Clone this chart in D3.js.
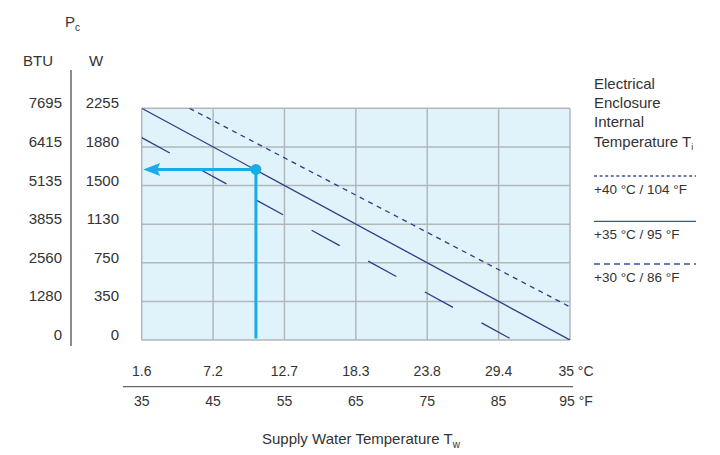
<!DOCTYPE html>
<html>
<head>
<meta charset="utf-8">
<script src="https://cdn.jsdelivr.net/npm/d3@7"></script>
<style>
  html, body { margin: 0; padding: 0; background: #fff; }
  svg { display: block; font-family: "Liberation Sans", Arial, Helvetica, sans-serif; }
</style>
</head>
<body>
<svg id="chart" width="720" height="455"></svg>
<script>
// ---- data ----
const fahrenheitTicks = [35, 45, 55, 65, 75, 85, 95];
const celsiusLabels = ["1.6", "7.2", "12.7", "18.3", "23.8", "29.4", "35 °C"];
const fahrenheitLabels = ["35", "45", "55", "65", "75", "85", "95 °F"];
const wattTicks = [0, 350, 750, 1130, 1500, 1880, 2255];
const btuLabels = ["0", "1280", "2560", "3855", "5135", "6415", "7695"];

// lines: [supply water °F, cooling power W]
const line40 = [[41.7, 2255], [95, 300]];
const line35 = [[35, 2255], [95, 0]];
const line30 = [[35, 1970], [87, 0]];
const operatingPoint = [51, 1659];

const legendTitle = ["Electrical", "Enclosure", "Internal", "Temperature T"];
const legendLabels = ["+40 °C / 104 °F", "+35 °C / 95 °F", "+30 °C / 86 °F"];

// ---- layout ----
(function () {
const svg = d3.select("#chart");
const pL = 141.7, pR = 570, pT = 108.3, pB = 340;
const navy = "#2c3c8c", cyan = "#19ace6", grid = "#b3b7bb", text = "#333";

const x = d3.scaleLinear().domain([35, 95]).range([pL, pR]);
const yRange = wattTicks.map((d, i) => pB - i * (pB - pT) / (wattTicks.length - 1));
const y = d3.scaleLinear().domain(wattTicks).range(yRange);

// plot background
svg.append("rect").attr("x", pL).attr("y", pT)
  .attr("width", pR - pL).attr("height", pB - pT)
  .attr("fill", "#e0f2fa");

// grid
svg.append("g").selectAll("line").data(fahrenheitTicks).join("line")
  .attr("x1", d => x(d)).attr("x2", d => x(d))
  .attr("y1", pT).attr("y2", pB)
  .attr("stroke", grid).attr("stroke-width", 1.5);
svg.append("g").selectAll("line").data(wattTicks).join("line")
  .attr("x1", pL).attr("x2", pR)
  .attr("y1", d => y(d)).attr("y2", d => y(d))
  .attr("stroke", grid).attr("stroke-width", 1.5);

// temperature lines
const lineGen = d3.line().x(d => x(d[0])).y(d => y(d[1]));
svg.append("clipPath").attr("id", "clip").append("rect")
  .attr("x", pL).attr("y", pT).attr("width", pR - pL).attr("height", pB - pT);
const lg = svg.append("g").attr("clip-path", "url(#clip)");
lg.append("path").datum(line40).attr("d", lineGen)
  .attr("fill", "none").attr("stroke", navy).attr("stroke-width", 1.3).attr("stroke-dasharray", "5,4.6");
lg.append("path").datum(line35).attr("d", lineGen)
  .attr("fill", "none").attr("stroke", navy).attr("stroke-width", 1.3);
lg.append("path").datum(line30).attr("d", lineGen)
  .attr("fill", "none").attr("stroke", navy).attr("stroke-width", 1.3).attr("stroke-dasharray", "32,32.5");

// operating point guides
const px = x(operatingPoint[0]), py = y(operatingPoint[1]);
svg.append("line").attr("x1", px).attr("x2", px).attr("y1", y(0) - 1.5).attr("y2", py)
  .attr("stroke", cyan).attr("stroke-width", 3);
svg.append("line").attr("x1", px).attr("x2", x(35) + 14).attr("y1", py).attr("y2", py)
  .attr("stroke", cyan).attr("stroke-width", 3);
const tipX = x(35) + 1.5;
svg.append("path")
  .attr("d", `M${tipX},${py} L${tipX + 17},${py - 6.5} L${tipX + 14},${py} L${tipX + 17},${py + 6.5} Z`)
  .attr("fill", cyan);
svg.append("circle").attr("cx", px).attr("cy", py).attr("r", 5.4).attr("fill", cyan);

// left axis
svg.append("line").attr("x1", 71).attr("x2", 71).attr("y1", 70).attr("y2", 346)
  .attr("stroke", "#666").attr("stroke-width", 1.5);
const yLab = svg.append("g").attr("font-size", 15).attr("fill", text);
yLab.selectAll("text.btu").data(wattTicks).join("text").attr("class", "btu")
  .attr("x", 62).attr("y", d => y(d) - 4).attr("text-anchor", "end").attr("dominant-baseline", "middle")
  .text((d, i) => btuLabels[i]);
yLab.selectAll("text.w").data(wattTicks).join("text").attr("class", "w")
  .attr("x", 119).attr("y", d => y(d) - 4).attr("text-anchor", "end").attr("dominant-baseline", "middle")
  .text(d => d);
yLab.append("text").attr("x", 38).attr("y", 62).attr("text-anchor", "middle").attr("dominant-baseline", "middle").text("BTU");
yLab.append("text").attr("x", 96).attr("y", 62).attr("text-anchor", "middle").attr("dominant-baseline", "middle").text("W");
const pc = yLab.append("text").attr("x", 65).attr("y", 27);
pc.append("tspan").text("P");
pc.append("tspan").attr("font-size", 10).attr("dy", 4).text("c");

// bottom axis
const xLab = svg.append("g").attr("font-size", 14).attr("fill", text);
xLab.selectAll("text.c").data(fahrenheitTicks).join("text").attr("class", "c")
  .attr("x", (d, i) => x(d) + (i === fahrenheitTicks.length - 1 ? 6 : 0)).attr("y", 372)
  .attr("text-anchor", "middle").attr("dominant-baseline", "middle")
  .text((d, i) => celsiusLabels[i]);
xLab.selectAll("text.f").data(fahrenheitTicks).join("text").attr("class", "f")
  .attr("x", (d, i) => x(d) + (i === fahrenheitTicks.length - 1 ? 6 : 0)).attr("y", 402)
  .attr("text-anchor", "middle").attr("dominant-baseline", "middle")
  .text((d, i) => fahrenheitLabels[i]);
svg.append("line").attr("x1", 123).attr("x2", 573).attr("y1", 386.7).attr("y2", 386.7)
  .attr("stroke", "#666").attr("stroke-width", 1.3);
const xt = svg.append("text").attr("x", 262).attr("y", 444).attr("font-size", 15).attr("fill", text);
xt.append("tspan").text("Supply Water Temperature T");
xt.append("tspan").attr("font-size", 10).attr("dy", 4).text("w");

// legend
const leg = svg.append("g").attr("fill", text);
legendTitle.forEach((t, i) => {
  const tt = leg.append("text").attr("x", 594).attr("y", 85 + i * 19.2)
    .attr("font-size", 15).attr("dominant-baseline", "middle").text(t);
  if (i === legendTitle.length - 1) tt.append("tspan").attr("font-size", 9).attr("dy", 5).text("i");
});
const legendDash = ["3,2.6", null, "6,4"];
const legendY = [176, 221.3, 264];
legendLabels.forEach((t, i) => {
  leg.append("line").attr("x1", 594).attr("x2", 696).attr("y1", legendY[i]).attr("y2", legendY[i])
    .attr("stroke", "#3d50a0").attr("stroke-width", 1.3)
    .attr("stroke-dasharray", legendDash[i]);
  leg.append("text").attr("x", 594).attr("y", legendY[i] + 14.5).attr("font-size", 13.5)
    .attr("dominant-baseline", "middle").text(t);
});
})();
</script>
</body>
</html>
